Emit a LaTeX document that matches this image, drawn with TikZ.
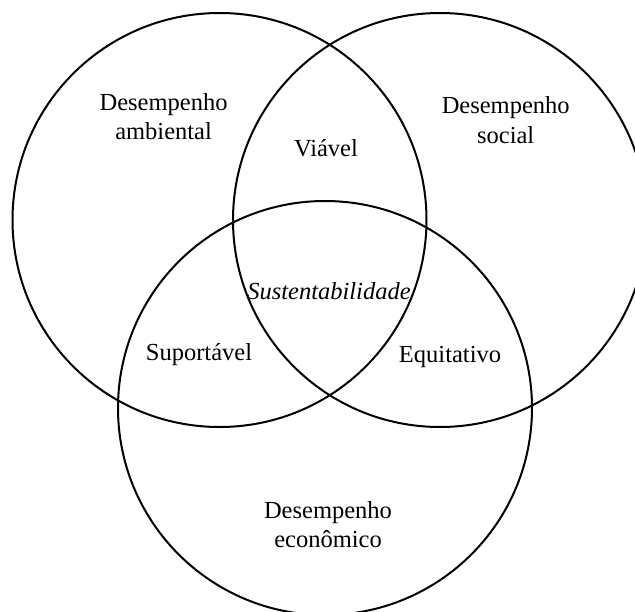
\documentclass[tikz,border=0pt]{standalone}
\usepackage{fontspec}
\setmainfont{Liberation Serif}
\begin{document}
\begin{tikzpicture}[x=1pt,y=-1pt,
  ring/.style={draw=black,line width=2pt},
  lbl/.style={anchor=base,inner sep=0pt,font=\fontsize{24.5}{29.5}\selectfont}]
\useasboundingbox (0,0) rectangle (635,611);
\begin{scope}
\clip (0,0) rectangle (635,611);
\draw[ring] (219.5,220) circle[radius=207];
\draw[ring] (440,220) circle[radius=207];
\draw[ring] (325,408) circle[radius=207];
\end{scope}
\node[lbl] (amb1) at (163.6,110) {Desempenho};
\node[lbl] (amb2) at (163.6,139.7) {ambiental};
\node[lbl] (soc1) at (505.7,113.4) {Desempenho};
\node[lbl] (soc2) at (505.7,143.4) {social};
\node[lbl] (via) at (326,156.7) {Viável};
\node[lbl] (sus) at (329,299.6) {\itshape Sustentabilidade};
\node[lbl] (sup) at (199,360) {Suportável};
\node[lbl] (equ) at (450,362) {Equitativo};
\node[lbl] (eco1) at (328,518) {Desempenho};
\node[lbl] (eco2) at (328,547.5) {econômico};
\end{tikzpicture}
\end{document}
